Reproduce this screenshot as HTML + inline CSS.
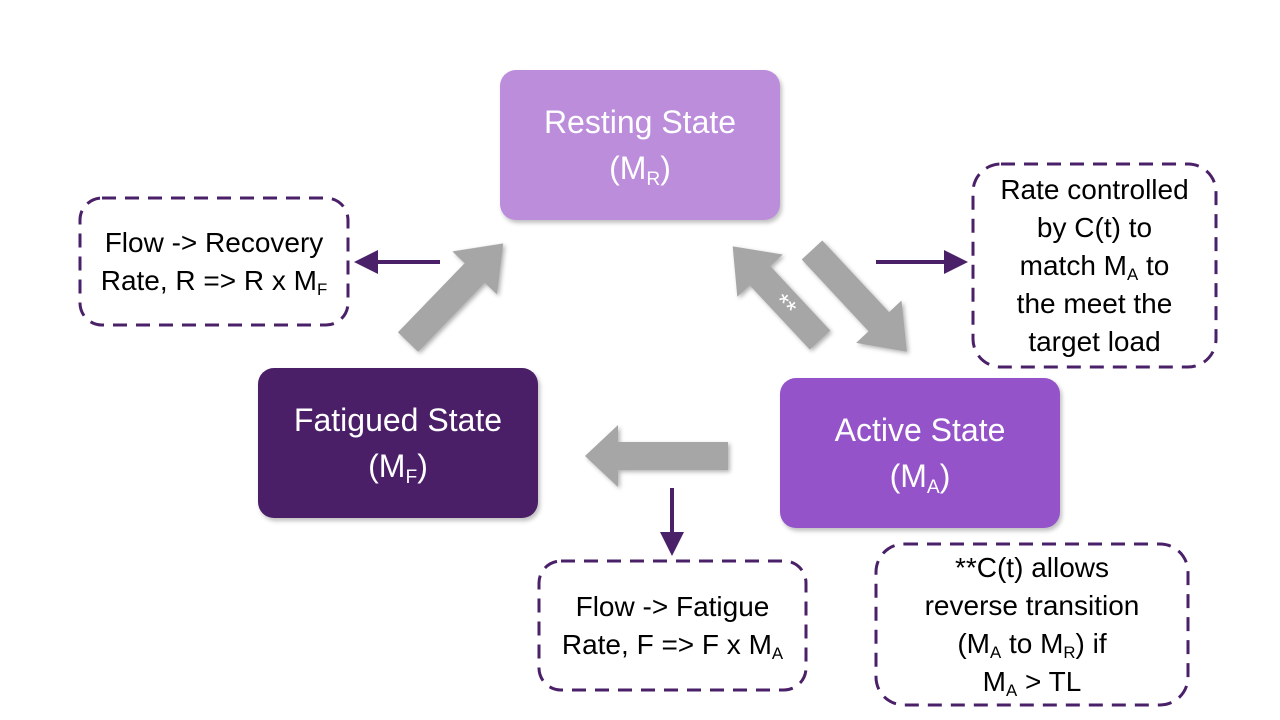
<!DOCTYPE html>
<html><head><meta charset="utf-8"><style>
body{margin:0;width:1280px;height:720px;background:#fff;position:relative;overflow:hidden;font-family:"Liberation Sans",sans-serif}
.box{position:absolute;border-radius:16px;color:#fff;font-size:32px;text-align:center;display:flex;align-items:center;justify-content:center;line-height:46px;box-shadow:2px 3px 4px rgba(0,0,0,0.25)}
.d{position:absolute;text-align:center;font-size:28px;line-height:38px;color:#000;display:flex;align-items:center;justify-content:center;white-space:nowrap}
sub{font-size:60%;vertical-align:-0.3em;line-height:0}
</style></head><body>
<svg width="1280" height="720" style="position:absolute;left:0;top:0">
<defs><marker id="m" markerWidth="6" markerHeight="6" refX="5" refY="3" orient="auto" markerUnits="strokeWidth"><path d="M0,0 L6,3 L0,6z" fill="#4a2068"/></marker></defs>
<g fill="none" stroke="#4a2068" stroke-width="3" stroke-dasharray="14 9">
<rect x="80" y="198" width="268" height="127" rx="22"/>
<rect x="973" y="164" width="243" height="203" rx="28"/>
<rect x="539" y="561" width="267" height="129" rx="22"/>
<rect x="876" y="544" width="312" height="161" rx="28"/>
</g>
<g stroke="#4a2068" stroke-width="4">
<line x1="440" y1="262" x2="358" y2="262" marker-end="url(#m)"/>
<line x1="876" y1="262" x2="964" y2="262" marker-end="url(#m)"/>
<line x1="672" y1="488" x2="672" y2="552" marker-end="url(#m)"/>
</g>
<g fill="#a6a6a6" style="filter:drop-shadow(2px 2px 2px rgba(0,0,0,0.3))">
<polygon transform="translate(408,342) rotate(-46)" points="0,-14 96,-14 96,-31 137,0 96,31 96,14 0,14"/>
<polygon transform="translate(812,250) rotate(47)" points="0,-14 98,-14 98,-31 139,0 98,31 98,14 0,14"/>
<polygon transform="translate(820,340) rotate(-133)" points="0,-14 88,-14 88,-31 128,0 88,31 88,14 0,14"/>
<polygon transform="translate(728,456) rotate(180)" points="0,-14 110,-14 110,-31 143,0 110,31 110,14 0,14"/>
</g>
<text x="780" y="312" fill="#fff" font-size="26" font-family="Liberation Sans" transform="rotate(45 780 310)" text-anchor="middle">**</text>
</svg>
<div class="box" style="left:500px;top:70px;width:280px;height:150px;background:#bb8ddb"><div>Resting State<br>(M<sub>R</sub>)</div></div>
<div class="box" style="left:258px;top:368px;width:280px;height:150px;background:#4b1f68"><div>Fatigued State<br>(M<sub>F</sub>)</div></div>
<div class="box" style="left:780px;top:378px;width:280px;height:150px;background:#9553c9"><div>Active State<br>(M<sub>A</sub>)</div></div>
<div class="d" style="left:80px;top:198px;width:268px;height:127px"><div>Flow -&gt; Recovery<br>Rate, R =&gt; R x M<sub>F</sub></div></div>
<div class="d" style="left:973px;top:164px;width:243px;height:203px"><div>Rate controlled<br>by C(t) to<br>match M<sub>A</sub> to<br>the meet the<br>target load</div></div>
<div class="d" style="left:539px;top:561px;width:267px;height:129px"><div>Flow -&gt; Fatigue<br>Rate, F =&gt; F x M<sub>A</sub></div></div>
<div class="d" style="left:876px;top:544px;width:312px;height:161px"><div>**C(t) allows<br>reverse transition<br>(M<sub>A</sub> to M<sub>R</sub>) if<br>M<sub>A</sub> &gt; TL</div></div>
</body></html>
